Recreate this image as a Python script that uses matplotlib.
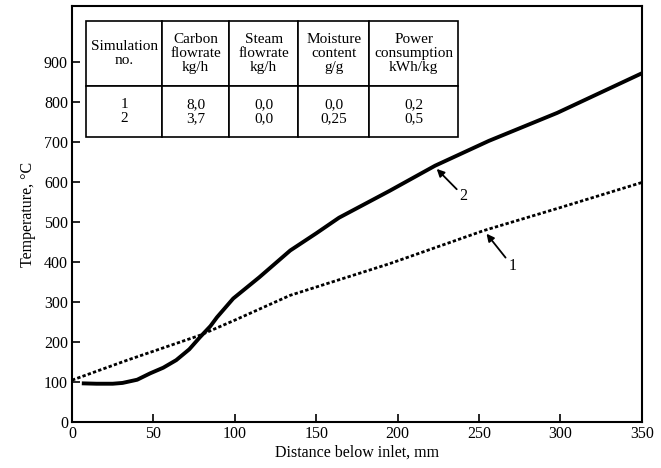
import matplotlib.pyplot as plt
import matplotlib.ticker as ticker

plt.rcParams["font.family"] = "Liberation Serif"
plt.rcParams["font.size"] = 11.5

# curve 2 (solid)
dist_2 = [6, 15, 25, 31, 40, 48, 56, 64, 72, 78.5, 85, 89, 99, 115, 134, 150, 164, 195, 223, 256, 298, 350]
temp_2 = [97, 96, 96, 98, 106, 122, 136, 155, 182, 212, 240, 262, 309, 362, 429, 472, 511, 578, 641, 703, 773, 872]

# curve 1 (dotted)
dist_1 = [0, 34, 78.5, 100, 134, 195, 253, 298, 350]
temp_1 = [105, 155, 217, 255, 317, 396, 479, 534, 599]

# table contents
col_labels = ["Simulation\nno.", "Carbon\nflowrate\nkg/h", "Steam\nflowrate\nkg/h",
              "Moisture\ncontent\ng/g", "Power\nconsumption\nkWh/kg"]
sim_no = ["1", "2"]
carbon = ["8,0", "3,7"]
steam = ["0,0", "0,0"]
moisture = ["0,0", "0,25"]
power = ["0,2", "0,5"]

fig = plt.figure(figsize=(6.61, 4.68), dpi=100)
ax = fig.add_axes([0.109, 0.098, 0.862, 0.889])

ax.plot(dist_2, temp_2, color='black', lw=2.8, solid_capstyle='butt')
ax.plot(dist_1, temp_1, color='black', lw=2.0, ls=(0, (1.2, 0.8)))

ax.annotate("2", xy=(224, 633), xytext=(238, 555),
            arrowprops=dict(arrowstyle='-|>', color='black', lw=1.3, mutation_scale=11,
                            shrinkA=0, shrinkB=0))
ax.annotate("1", xy=(254.6, 471), xytext=(268, 380),
            arrowprops=dict(arrowstyle='-|>', color='black', lw=1.3, mutation_scale=11,
                            shrinkA=0, shrinkB=0))

ax.set_xlim(0, 350)
ax.set_ylim(0, 1040)
ax.xaxis.set_major_locator(ticker.MultipleLocator(50))
ax.set_yticks(range(0, 1000, 100))
ax.tick_params(direction='in', length=6, width=1.2, pad=3, top=False, right=False)
for sp in ax.spines.values():
    sp.set_linewidth(1.5)

ax.set_xlabel("Distance below inlet, mm", labelpad=2)
ax.set_ylabel("Temperature, \u00b0C", labelpad=6)

body = ["\n".join(c) for c in (sim_no, carbon, steam, moisture, power)]
tbl = ax.table(cellText=[body], colLabels=col_labels, cellLoc='center',
               colWidths=[76, 67, 69, 71, 89],
               bbox=[0.0246, 0.685, 0.653, 0.279])
tbl.auto_set_font_size(False)
tbl.set_fontsize(11)
for (r, c), cell in tbl.get_celld().items():
    cell.set_linewidth(1.2)
    cell.set_height(0.56 if r == 0 else 0.44)
    cell.get_text().set_linespacing(1.08)

fig.savefig("out.png", dpi=100)
